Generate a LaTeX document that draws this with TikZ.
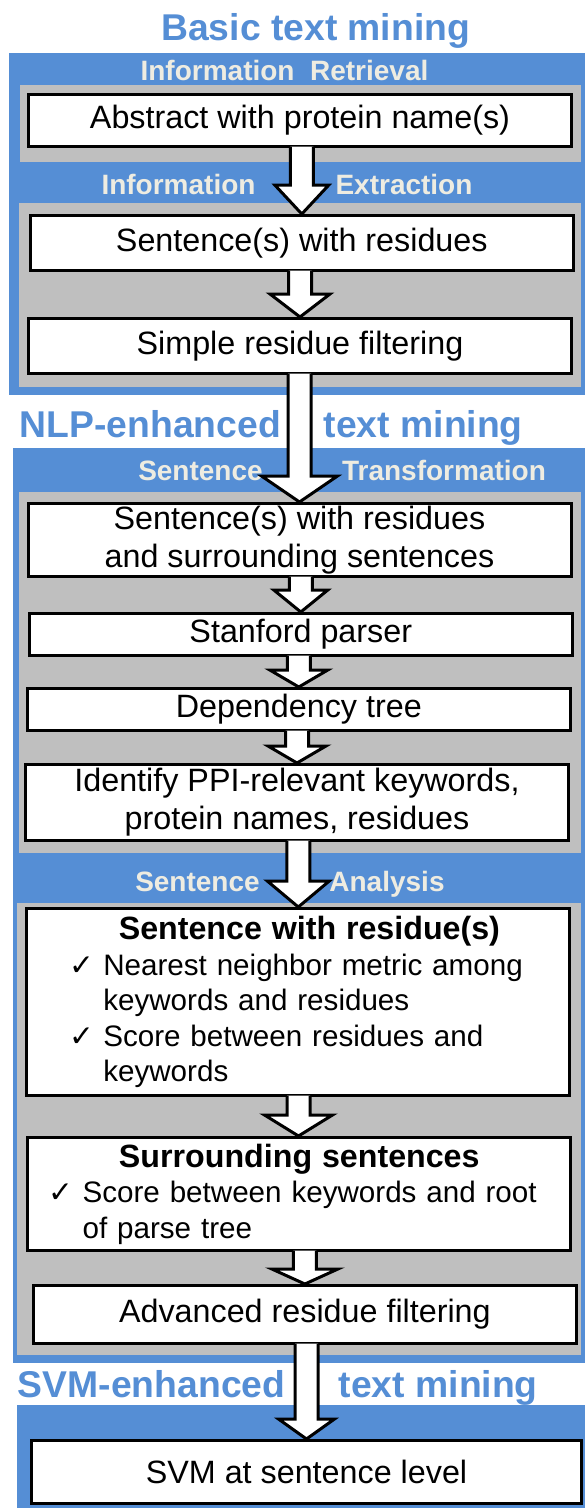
\documentclass[tikz,border=0pt]{standalone}
\usepackage{fontspec}
\setmainfont{Liberation Sans}
\newfontfamily\tickfont{DejaVu Sans}
\usetikzlibrary{calc}
\definecolor{bandblue}{RGB}{85,142,213}
\definecolor{panelgray}{RGB}{191,191,191}
\definecolor{labelcream}{RGB}{238,236,225}
\newcommand{\tick}{\makebox[34pt][l]{\tickfont ✓}}
\newcommand{\shafthalf}{11.5}

\begin{document}
\begin{tikzpicture}[x=1pt,y=-1pt,
  band/.style={fill=bandblue},
  panel/.style={fill=panelgray},
  stage/.style={font=\fontsize{37.3}{40}\selectfont\bfseries,text=bandblue,inner sep=0pt,anchor=base},
  phase/.style={font=\fontsize{28}{30}\selectfont\bfseries,text=labelcream,inner sep=0pt,anchor=base},
  stepbox/.style={draw=black,fill=white,line width=3pt,inner sep=0pt,minimum width=543pt,
                  font=\fontsize{32.3}{38}\selectfont,align=center},
  listbox/.style={stepbox,text width=543pt,align=left,font=\fontsize{29.6}{35.5}\selectfont},
  blk/.style={draw=black,fill=white,line width=3pt,line join=miter}
]
\useasboundingbox (0,0) rectangle (585,1508);

\fill[band] (9,53) rectangle (585,395);
\fill[band] (13,448) rectangle (585,1363);
\fill[band] (17,1405) rectangle (585,1508);
\fill[panel] (20,85) rectangle (581,162);
\fill[panel] (18.5,203) rectangle (581,387);
\fill[panel] (18.5,492) rectangle (581,853);
\fill[panel] (17,903) rectangle (581,1355);

\node[stage] (basic) at (315.7,40) {Basic text mining};
\node[stage] (nlpa) at (150.3,437) {NLP-enhanced};
\node[stage] (nlpb) at (423.3,437) {text mining};
\node[stage] (svma) at (151.6,1397) {SVM-enhanced};
\node[stage] (svmb) at (438.3,1397) {text mining};

\node[phase] (ir) at (284.5,80) {Information\ \ Retrieval};
\node[phase] (iea) at (178.5,194) {Information};
\node[phase] (ieb) at (404,194) {Extraction};
\node[phase] (sta) at (200.5,480) {Sentence};
\node[phase] (stb) at (444,480) {Transformation};
\node[phase] (saa) at (197.5,891) {Sentence};
\node[phase] (sab) at (387,891) {Analysis};

\node[stepbox,minimum height=52pt] (abs) at (300,120.5) {Abstract with protein name(s)};
\node[stepbox,minimum height=55pt] (sent) at (301.8,243) {Sentence(s) with residues};
\node[stepbox,minimum height=55pt] (simple) at (300,346) {Simple residue filtering};
\node[stepbox,minimum height=73pt] (sursent) at (299.5,540) {Sentence(s) with residues\\ and surrounding sentences};
\node[stepbox,minimum height=42pt] (parser) at (300.8,634.5) {Stanford parser};
\node[stepbox,minimum height=42pt] (deptree) at (298.8,709.5) {Dependency tree};
\node[stepbox,minimum height=76pt] (ident) at (297,802.5) {Identify PPI-relevant keywords,\\ protein names, residues};
\node[listbox,minimum height=187pt] (swr) at (298.3,1002) {\hspace*{92pt}{\fontsize{32.2}{35.5}\selectfont\bfseries Sentence with residue(s)}\\
  \hspace*{42.5pt}\tick Nearest neighbor metric among\\
  \hspace*{76.5pt}keywords and residues\\
  \hspace*{42.5pt}\tick Score between residues and\\
  \hspace*{76.5pt}keywords};
\node[listbox,minimum height=113pt] (surr) at (298.5,1194) {\hspace*{92pt}{\fontsize{32.2}{35.5}\selectfont\bfseries Surrounding sentences}\\
  \hspace*{21.6pt}\tick Score between keywords and root\\
  \hspace*{55.6pt}of parse tree};
\node[stepbox,minimum height=58pt] (adv) at (304.9,1314.5) {Advanced residue filtering};
\node[stepbox,minimum width=550pt,minimum height=63pt] (svm) at (306.5,1472) {SVM at sentence level};

\foreach \a/\b/\hl/\hw in {abs/sent/29/27,sent/simple/23/30,simple/sursent/26/38,sursent/parser/22/27,
    parser/deptree/17/29,deptree/ident/17/29,ident/swr/26/31,swr/surr/21/34,surr/adv/15/33,adv/svm/20/28}{
  \draw[blk] let \p1=(\a.south), \p2=(\b.north) in
    (\x2-\shafthalf,\y1+1.5) -- (\x2-\shafthalf,\y2+\hl) -- (\x2-\hw,\y2+\hl) -- (\x2,\y2)
    -- (\x2+\hw,\y2+\hl) -- (\x2+\shafthalf,\y2+\hl) -- (\x2+\shafthalf,\y1+1.5);
}
\end{tikzpicture}
\end{document}
